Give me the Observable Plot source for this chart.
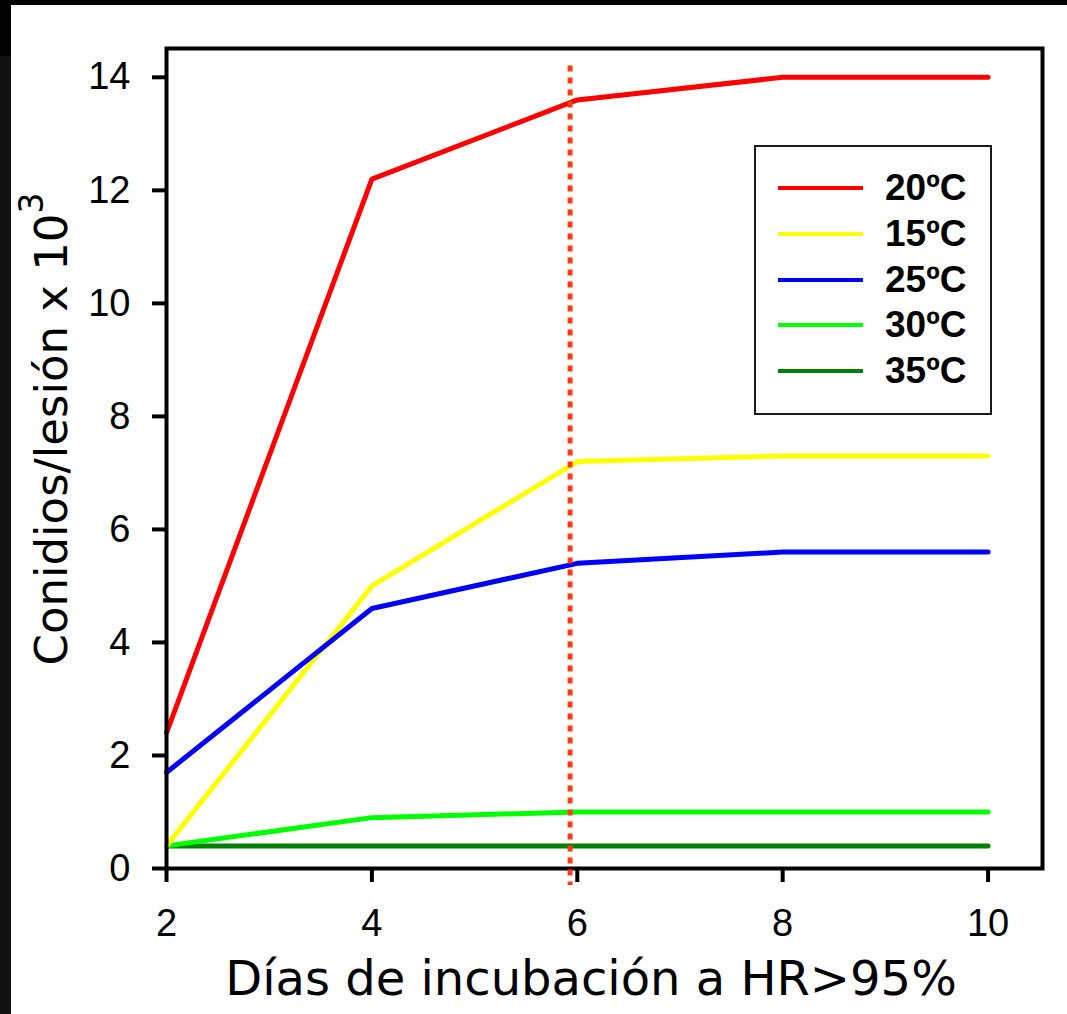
<!DOCTYPE html>
<html>
<head>
<meta charset="utf-8">
<script src="https://cdn.jsdelivr.net/npm/d3@7"></script>
<script src="https://cdn.jsdelivr.net/npm/@observablehq/plot@0.6"></script>
<style>
  html, body { margin: 0; padding: 0; background: #000; width: 1067px; height: 1014px; overflow: hidden; }
  #edge { position: absolute; left: 0; top: 56px; width: 11px; height: 958px; background: #121212; }
  #panel { position: absolute; left: 11px; top: 5px; width: 1056px; height: 1009px; background: #fff; }
  #panel svg { display: block; }
  #legend { position: absolute; left: 743px; top: 140px; width: 234px; height: 266px;
            border: 2px solid #1a1a1a; background: #fff; box-sizing: content-box; }
  .row { position: absolute; left: 0; height: 40px; display: flex; align-items: center; }
  .swatch { width: 85px; height: 4px; margin-left: 22px; }
  .label { margin-left: 22px; font: bold 37px "Liberation Sans", Arial, sans-serif; color: #000; }
</style>
</head>
<body>
<div id="edge"></div>
<div id="panel"><div id="legend"></div></div>
<script>
// Incubation days on the x axis
const days = [2, 4, 6, 8, 10];
// Temperature series, in legend order, with their colours
const series = ["20ºC", "15ºC", "25ºC", "30ºC", "35ºC"];
const colors = ["#ff0000", "#ffff00", "#0000ff", "#00ff00", "#008000"];
// Conidia per lesion (x 10^3) for each temperature
const c20 = [2.4, 12.2, 13.6, 14.0, 14.0];
const c15 = [0.4, 5.0, 7.2, 7.3, 7.3];
const c25 = [1.7, 4.6, 5.4, 5.6, 5.6];
const c30 = [0.4, 0.9, 1.0, 1.0, 1.0];
const c35 = [0.4, 0.4, 0.4, 0.4, 0.4];
// Tick values
const xTicks = [2, 4, 6, 8, 10];
const yTicks = [0, 2, 4, 6, 8, 10, 12, 14];
// Day marked by the dotted reference line
const markerDay = [5.93];

const values = [c20, c15, c25, c30, c35];
// Long table; stacking order of the lines (first drawn lies underneath)
const drawOrder = [4, 3, 0, 1, 2];
const rows = [];
for (const s of drawOrder) {
  days.forEach((d, i) => rows.push({ series: series[s], day: d, value: values[s][i] }));
}

const chart = Plot.plot({
  width: 1056,
  height: 1009,
  marginLeft: 155,
  marginTop: 43,
  marginRight: 25,
  marginBottom: 146,
  style: { fontFamily: "'Liberation Sans', Arial, sans-serif", fontSize: "38px", color: "#000", background: "transparent" },
  x: { domain: [2, 10.53] },
  y: { domain: [0, 14.51] },
  color: { domain: series, range: colors },
  marks: [
    Plot.axisX(xTicks, { tickSize: 14, tickPadding: 27, strokeWidth: 4, label: null, fontSize: 38, tickFormat: d => String(d) }),
    Plot.axisY(yTicks, { tickSize: 14, tickPadding: 22, strokeWidth: 4, label: null, fontSize: 38, tickFormat: d => String(d) }),
    Plot.lineY(rows, { x: "day", y: "value", z: "series", stroke: "series", strokeWidth: 5, strokeLinejoin: "miter" }),
    Plot.frame({ stroke: "#000", strokeWidth: 4 }),
    Plot.ruleX(markerDay, { y1: 14.2, y2: -0.3, stroke: "#ff3c14", strokeWidth: 5, strokeDasharray: "6,6" })
  ]
});

document.getElementById("panel").prepend(chart);

const svg = d3.select(chart);
// Axis titles
svg.append("text")
  .attr("x", 580).attr("y", 990)
  .attr("text-anchor", "middle")
  .style("font-family", "'DejaVu Sans', Verdana, sans-serif")
  .style("font-size", "48px")
  .attr("fill", "#000")
  .text("Días de incubación a HR>95%");

const yt = svg.append("text")
  .attr("transform", "translate(56,424) rotate(-90)")
  .attr("text-anchor", "middle")
  .style("font-family", "'DejaVu Sans', Verdana, sans-serif")
  .style("font-size", "45px")
  .attr("fill", "#000");
yt.append("tspan").text("Conidios/lesión x 10");
yt.append("tspan").attr("dy", -24).style("font-size", "33px").text("3");

// Legend
const legend = d3.select("#legend");
series.forEach((name, i) => {
  const row = legend.append("div").attr("class", "row").style("top", (41 + i * 45.8 - 20) + "px");
  row.append("div").attr("class", "swatch").style("background", colors[i]);
  row.append("div").attr("class", "label").text(name);
});
</script>
</body>
</html>
